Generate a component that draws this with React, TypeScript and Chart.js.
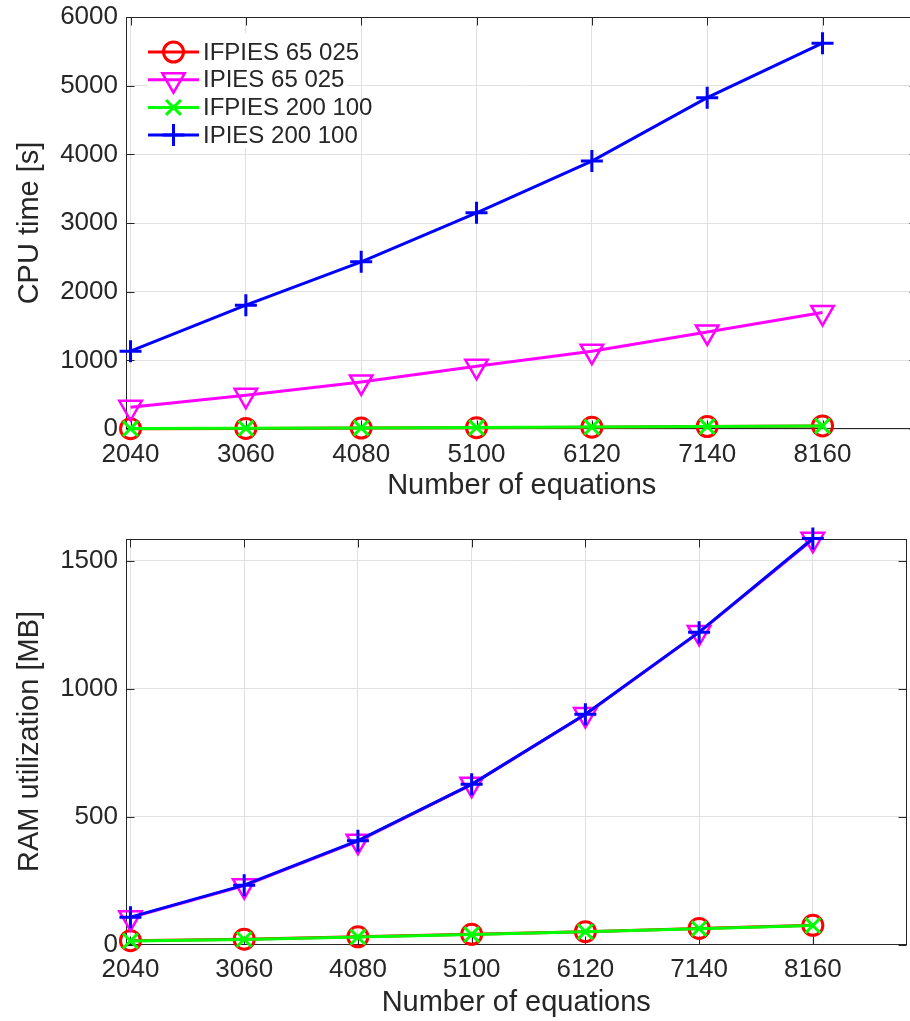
import React, { useEffect, useRef } from 'react';
import { Chart, registerables } from 'chart.js';

Chart.register(...registerables);

// ---------- data ----------
const equations = [2040, 3060, 4080, 5100, 6120, 7140, 8160];
const seriesNames = ['IFPIES 65 025', 'IPIES 65 025', 'IFPIES 200 100', 'IPIES 200 100'];

const cpuIFPIES65 = [5, 9, 14, 20, 27, 35, 44];
const cpuIPIES65 = [316, 491, 685, 914, 1133, 1414, 1697];
const cpuIFPIES200 = [6, 10, 15, 21, 28, 36, 45];
const cpuIPIES200 = [1133, 1803, 2434, 3149, 3902, 4825, 5618];

const ramIFPIES65 = [15, 21, 30, 40, 50, 63, 75];
const ramIPIES65 = [105, 230, 404, 626, 899, 1220, 1584];
const ramIFPIES200 = [14, 20, 29, 39, 50, 62, 74];
const ramIPIES200 = [107, 232, 406, 626, 900, 1221, 1587];

const cpuTicks = [0, 1000, 2000, 3000, 4000, 5000, 6000];
const ramTicks = [0, 500, 1000, 1500];
const xMin = 2000;
const xMax = 9000;
const cpuMax = 6000;
const ramMax = 1587;

// ---------- styles ----------
const FONT = '"Liberation Sans", Arial, Helvetica, sans-serif';
const TEXT = '#262626';
const GRID = '#e0e0e0';

type Style = { color: string; marker: string; rotation: number; radius: number; pw: number; order: number };
const styles: Style[] = [
  { color: '#ff0000', marker: 'circle', rotation: 0, radius: 10, pw: 3, order: 3 },
  { color: '#ff00ff', marker: 'triangle', rotation: 180, radius: 13, pw: 2.5, order: 2 },
  { color: '#00ff00', marker: 'crossRot', rotation: 0, radius: 10.5, pw: 3, order: 1 },
  { color: '#0000ff', marker: 'cross', rotation: 0, radius: 11, pw: 3, order: 0 },
];

function drawMarker(ctx: CanvasRenderingContext2D, s: Style, x: number, y: number) {
  const r = s.radius;
  ctx.save();
  ctx.strokeStyle = s.color;
  ctx.lineWidth = s.pw;
  ctx.beginPath();
  if (s.marker === 'circle') {
    ctx.arc(x, y, r, 0, Math.PI * 2);
  } else if (s.marker === 'triangle') {
    const h = r * Math.sin(Math.PI / 3);
    ctx.moveTo(x - h, y - r / 2);
    ctx.lineTo(x + h, y - r / 2);
    ctx.lineTo(x, y + r);
    ctx.closePath();
  } else if (s.marker === 'cross') {
    ctx.moveTo(x - r, y);
    ctx.lineTo(x + r, y);
    ctx.moveTo(x, y - r);
    ctx.lineTo(x, y + r);
  } else {
    const d = r * Math.SQRT1_2;
    ctx.moveTo(x - d, y - d);
    ctx.lineTo(x + d, y + d);
    ctx.moveTo(x + d, y - d);
    ctx.lineTo(x - d, y + d);
  }
  ctx.stroke();
  ctx.restore();
}

const boxPlugin = {
  id: 'matlabBox',
  beforeDatasetsDraw(chart: any) {
    const { ctx, chartArea, scales } = chart;
    const L = Math.round(chartArea.left) + 0.5;
    const R = Math.round(chartArea.right) - 0.5;
    const T = Math.round(chartArea.top) + 0.5;
    const B = Math.round(chartArea.bottom) - 0.5;
    const tl = 8;
    ctx.save();
    ctx.strokeStyle = TEXT;
    ctx.lineWidth = 1;
    ctx.strokeRect(L, T, R - L, B - T);
    ctx.beginPath();
    scales.x.ticks.forEach((t: any) => {
      const px = Math.round(scales.x.getPixelForValue(t.value)) + 0.5;
      ctx.moveTo(px, B);
      ctx.lineTo(px, B - tl);
      ctx.moveTo(px, T);
      ctx.lineTo(px, T + tl);
    });
    scales.y.ticks.forEach((t: any) => {
      const py = Math.round(scales.y.getPixelForValue(t.value)) + 0.5;
      ctx.moveTo(L, py);
      ctx.lineTo(L + tl, py);
      ctx.moveTo(R, py);
      ctx.lineTo(R - tl, py);
    });
    ctx.stroke();
    ctx.restore();
  },
};

const legendPlugin = {
  id: 'matlabLegend',
  afterDraw(chart: any) {
    if (!chart.options.plugins.matlabLegend?.show) return;
    const { ctx } = chart;
    ctx.save();
    ctx.fillStyle = '#ffffff';
    ctx.fillRect(147, 33, 200, 115);
    seriesNames.forEach((name, i) => {
      const s = styles[i];
      const y = 52 + i * 27.7;
      ctx.strokeStyle = s.color;
      ctx.lineWidth = 3;
      ctx.beginPath();
      ctx.moveTo(148, y);
      ctx.lineTo(199, y);
      ctx.stroke();
      drawMarker(ctx, s, 173.5, y);
      ctx.fillStyle = TEXT;
      ctx.font = `24px ${FONT}`;
      ctx.textBaseline = 'middle';
      ctx.textAlign = 'left';
      ctx.fillText(name, 203, y + 1);
    });
    ctx.restore();
  },
};

function zeroPad(s: any) {
  s.paddingTop = 0;
  s.paddingBottom = 0;
  s.paddingLeft = 0;
  s.paddingRight = 0;
}

type PanelProps = {
  top: number;
  width: number;
  height: number;
  padTop: number;
  xAxisH: number;
  yMax: number;
  yTicks: number[];
  yTitle: string;
  series: number[][];
  legend: boolean;
  titlePadBottom: number;
};

function Panel(p: PanelProps) {
  const ref = useRef<HTMLCanvasElement>(null);
  useEffect(() => {
    const datasets = p.series.map((vals, i) => {
      const s = styles[i];
      return {
        label: seriesNames[i],
        data: equations.map((x, j) => ({ x, y: vals[j] })),
        borderColor: s.color,
        backgroundColor: s.color,
        borderWidth: 3,
        pointStyle: s.marker,
        pointRotation: s.rotation,
        pointRadius: s.radius,
        pointBorderWidth: s.pw,
        pointBorderColor: s.color,
        pointBackgroundColor: 'rgba(0,0,0,0)',
        pointHoverRadius: s.radius,
        tension: 0,
        clip: false as any,
        order: s.order,
      };
    });
    const chart = new Chart(ref.current!, {
      type: 'line',
      data: { datasets },
      options: {
        animation: false,
        responsive: false,
        maintainAspectRatio: false,
        devicePixelRatio: 1,
        layout: { padding: { top: p.padTop, right: 0, left: 0, bottom: 0 } },
        plugins: {
          legend: { display: false },
          tooltip: { enabled: false },
          matlabLegend: { show: p.legend },
        } as any,
        scales: {
          x: {
            type: 'linear',
            min: xMin,
            max: xMax,
            afterBuildTicks: (s: any) => {
              s.ticks = equations.map((v) => ({ value: v }));
            },
            afterFit: (s: any) => {
              s.height = p.xAxisH;
              zeroPad(s);
            },
            ticks: {
              autoSkip: false,
              maxRotation: 0,
              minRotation: 0,
              padding: 10,
              color: TEXT,
              font: { family: FONT, size: 26 },
              callback: (v: any) => String(v),
            },
            grid: { color: GRID, lineWidth: 1, drawTicks: false },
            border: { display: false },
            title: {
              display: true,
              text: 'Number of equations',
              color: TEXT,
              font: { family: FONT, size: 29 },
              padding: { top: 0, bottom: p.titlePadBottom },
            },
          },
          y: {
            type: 'linear',
            min: 0,
            max: p.yMax,
            afterBuildTicks: (s: any) => {
              s.ticks = p.yTicks.map((v) => ({ value: v }));
            },
            afterFit: (s: any) => {
              s.width = 126;
              zeroPad(s);
            },
            ticks: {
              padding: 8,
              color: TEXT,
              font: { family: FONT, size: 26 },
              callback: (v: any) => String(v),
            },
            grid: { color: GRID, lineWidth: 1, drawTicks: false },
            border: { display: false },
            title: {
              display: true,
              text: p.yTitle,
              color: TEXT,
              font: { family: FONT, size: 29 },
              padding: { top: 13, bottom: 0 },
            },
          },
        },
      },
      plugins: [boxPlugin, legendPlugin],
    } as any);
    return () => chart.destroy();
  }, []);
  return (
    <canvas
      ref={ref}
      width={p.width}
      height={p.height}
      style={{ position: 'absolute', left: 0, top: p.top, width: p.width, height: p.height }}
    />
  );
}

export default function App() {
  return (
    <div
      style={{
        position: 'absolute',
        left: 0,
        top: 0,
        width: 910,
        height: 1021,
        overflow: 'hidden',
        background: '#ffffff',
      }}
    >
      <Panel
        top={0}
        width={933}
        height={505}
        padTop={17}
        xAxisH={76}
        yMax={cpuMax}
        yTicks={cpuTicks}
        yTitle="CPU time [s]"
        series={[cpuIFPIES65, cpuIPIES65, cpuIFPIES200, cpuIPIES200]}
        legend={true}
        titlePadBottom={2}
      />
      <Panel
        top={505}
        width={922}
        height={516}
        padTop={33.5}
        xAxisH={76.5}
        yMax={ramMax}
        yTicks={ramTicks}
        yTitle="RAM utilization [MB]"
        series={[ramIFPIES65, ramIPIES65, ramIFPIES200, ramIPIES200]}
        legend={false}
        titlePadBottom={1}
      />
    </div>
  );
}
